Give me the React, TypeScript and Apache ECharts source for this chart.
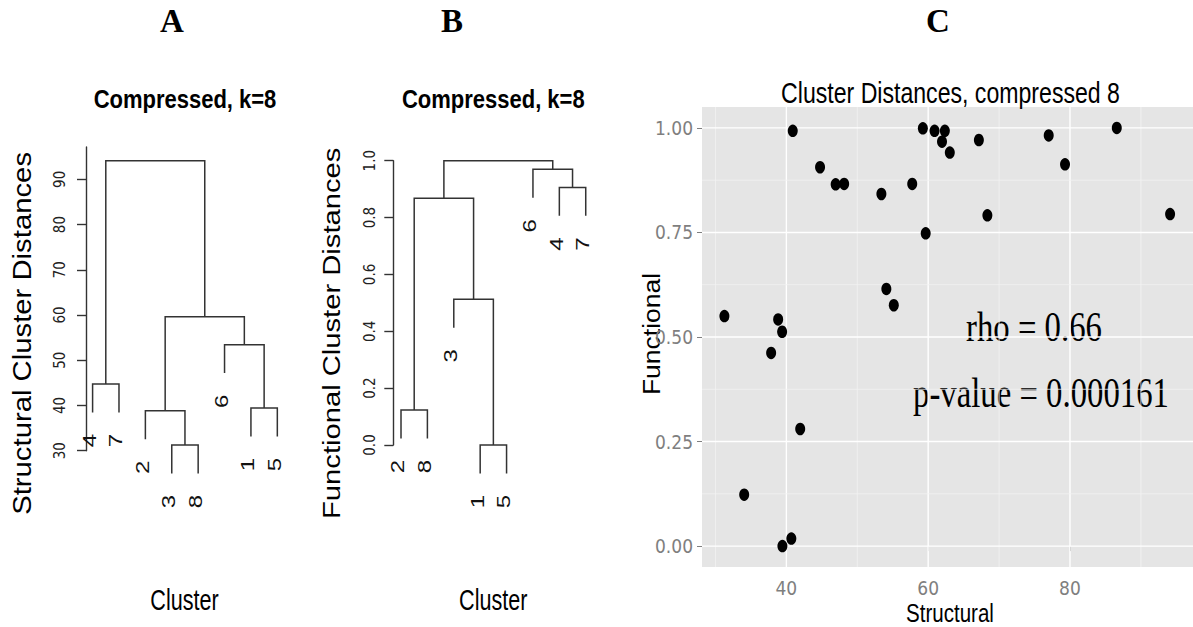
import { useEffect, useRef } from "react";
import * as echarts from "echarts";

// ---------- Panel A: structural dendrogram ----------
const leafOrderA = ["4", "7", "2", "3", "8", "6", "1", "5"];
// R-style merge rows: negative = leaf (cluster id), positive = earlier row (1-based), then height
const mergeA: [number, number, number][] = [
  [-3, -8, 31.26],
  [-2, 1, 38.84],
  [-1, -5, 39.44],
  [-4, -7, 44.75],
  [-6, 3, 53.44],
  [2, 5, 59.63],
  [4, 6, 94.12],
];
const ticksA = [30, 40, 50, 60, 70, 80, 90];

// ---------- Panel B: functional dendrogram ----------
const leafOrderB = ["2", "8", "3", "1", "5", "6", "4", "7"];
const mergeB: [number, number, number][] = [
  [-1, -5, 0.0],
  [-2, -8, 0.123],
  [-3, 1, 0.5125],
  [2, 3, 0.868],
  [-4, -7, 0.906],
  [-6, 5, 0.97],
  [4, 6, 1.0],
];
const ticksB = [0, 0.2, 0.4, 0.6, 0.8, 1.0];
const HANG = 0.1;

// ---------- Panel C: scatter ----------
const structural = [
  31.26, 40.9, 44.75, 46.95, 48.15, 53.4, 57.75, 59.25, 59.65, 60.9, 62.35, 61.95, 63.05, 67.15,
  68.35, 77.0, 79.3, 86.6, 94.12, 54.1, 55.15, 38.84, 39.4, 37.85, 34.05, 41.95, 39.44, 40.7,
];
const functional = [
  0.55, 0.993, 0.906, 0.865, 0.866, 0.842, 0.866, 0.999, 0.748, 0.993, 0.993, 0.967, 0.941, 0.971,
  0.791, 0.982, 0.913, 1.0, 0.794, 0.615, 0.576, 0.542, 0.5125, 0.462, 0.123, 0.28, 0.0, 0.018,
];
const ticksCx = [40, 60, 80];
const minorCx = [30, 50, 70, 90];
const ticksCy = [0, 0.25, 0.5, 0.75, 1.0];
const minorCy = [0.125, 0.375, 0.625, 0.875];
const xRangeC = [28.1, 97.35];
const yRangeC = [-0.05, 1.05];

const SANS = "'Liberation Sans', Arial, Helvetica, sans-serif";
const NARROW = "'Liberation Sans Narrow', 'Arial Narrow', 'DejaVu Sans Condensed', 'Liberation Sans', sans-serif";
const SERIF = "'Liberation Serif', 'Times New Roman', serif";
const LINE = "#333333";

function buildDendro(order: string[], merge: [number, number, number][]) {
  const hs = merge.map((m) => m[2]);
  const hang = HANG * (Math.max(...hs) - Math.min(...hs));
  const nodeX: number[] = [];
  const links: number[][] = [];
  const leaves: number[][] = [];
  const labels: string[] = [];
  merge.forEach((m, i) => {
    const child = (c: number) => {
      if (c < 0) {
        const pos = order.indexOf(String(-c)) + 1;
        leaves.push([pos, m[2] - hang]);
        labels.push(String(-c));
        return [pos, m[2] - hang];
      }
      return [nodeX[c - 1], merge[c - 1][2]];
    };
    const l = child(m[0]);
    const r = child(m[1]);
    nodeX[i] = (l[0] + r[0]) / 2;
    links.push([l[0], l[1], r[0], r[1], m[2]]);
  });
  return { links, leaves, labels };
}

export default function App() {
  const ref = useRef<HTMLDivElement>(null);
  useEffect(() => {
    const chart = echarts.init(ref.current!, null, { renderer: "svg" });
    const dA = buildDendro(leafOrderA, mergeA);
    const dB = buildDendro(leafOrderB, mergeB);

    const linkRender = (params: any, api: any) => {
      const xl = api.value(0), yl = api.value(1), xr = api.value(2), yr = api.value(3), h = api.value(4);
      const pts = [api.coord([xl, yl]), api.coord([xl, h]), api.coord([xr, h]), api.coord([xr, yr])];
      return { type: "polyline", shape: { points: pts }, style: { stroke: LINE, lineWidth: 1.5, fill: "none" } };
    };
    const leafRender = (labels: string[]) => (params: any, api: any) => {
      const p = api.coord([api.value(0), api.value(1)]);
      return {
        type: "text",
        x: p[0] - 2.5,
        y: p[1] + 21.5,
        rotation: Math.PI / 2,
        scaleY: 0.76,
        style: { text: labels[params.dataIndex], fontSize: 24, fontFamily: SANS, fill: "#111", align: "right", verticalAlign: "middle" },
      };
    };
    const gridRender = (vertical: boolean) => (params: any, api: any) => {
      const cs = params.coordSys;
      const major = api.value(2) === 1;
      let shape;
      if (vertical) {
        const x = api.coord([api.value(0), 0.5])[0];
        shape = { x1: x, y1: cs.y, x2: x, y2: cs.y + cs.height };
      } else {
        const y = api.coord([50, api.value(1)])[1];
        shape = { x1: cs.x, y1: y, x2: cs.x + cs.width, y2: y };
      }
      return { type: "line", shape, style: { stroke: major ? "#ffffff" : "#F2F2F2", lineWidth: major ? 1.4 : 0.8 } };
    };

    const dendroY = (min: number, max: number, ticks: number[], margin: number, fmt: (v: number) => string) => ({
      type: "value",
      min,
      max,
      axisLine: { show: true, lineStyle: { color: LINE, width: 1.4 } },
      axisTick: { show: true, length: 9, customValues: ticks, lineStyle: { color: LINE, width: 1.4 } },
      axisLabel: { show: true, customValues: ticks, rotate: 90, margin, fontSize: 15, fontFamily: NARROW, color: "#222", formatter: fmt },
      splitLine: { show: false },
    });

    const T = (text: string, x: number, y: number, font: any, extra: any = {}) => ({
      type: "text",
      x,
      y,
      ...extra,
      style: { text, align: "center", verticalAlign: "middle", fill: "#000", ...font },
    });

    chart.setOption({
      animation: false,
      grid: [
        { left: 86, top: 147, width: 198.9, height: 303.7 },
        { left: 393.3, top: 160.7, width: 200.3, height: 284.3 },
        { left: 702, top: 107, width: 498, height: 460, show: true, backgroundColor: "#E5E5E5", borderWidth: 0 },
      ],
      xAxis: [
        { gridIndex: 0, type: "value", min: 0.75, max: 8.287, show: false },
        { gridIndex: 1, type: "value", min: 0.708, max: 8.298, show: false },
        {
          gridIndex: 2,
          type: "value",
          min: xRangeC[0],
          max: xRangeC[1],
          axisLine: { show: false },
          axisTick: { show: true, length: 5, customValues: ticksCx, lineStyle: { color: "#7F7F7F", width: 1 } },
          axisLabel: { show: true, customValues: ticksCx, margin: 11, fontSize: 19, fontFamily: NARROW, color: "#7F7F7F" },
          splitLine: { show: false },
        },
      ],
      yAxis: [
        { gridIndex: 0, ...dendroY(30, 97.15, ticksA, 19, (v: number) => String(v)) },
        { gridIndex: 1, ...dendroY(0, 1, ticksB, 16, (v: number) => v.toFixed(1)) },
        {
          gridIndex: 2,
          type: "value",
          min: yRangeC[0],
          max: yRangeC[1],
          axisLine: { show: false },
          axisTick: { show: true, length: 5, customValues: ticksCy, lineStyle: { color: "#7F7F7F", width: 1 } },
          axisLabel: { show: true, customValues: ticksCy, margin: 9, fontSize: 19, fontFamily: NARROW, color: "#7F7F7F", formatter: (v: number) => v.toFixed(2) },
          splitLine: { show: false },
        },
      ],
      series: [
        { type: "custom", xAxisIndex: 0, yAxisIndex: 0, renderItem: linkRender, data: dA.links, z: 2 },
        { type: "custom", xAxisIndex: 0, yAxisIndex: 0, renderItem: leafRender(dA.labels), data: dA.leaves, z: 2 },
        { type: "custom", xAxisIndex: 1, yAxisIndex: 1, renderItem: linkRender, data: dB.links, z: 2 },
        { type: "custom", xAxisIndex: 1, yAxisIndex: 1, renderItem: leafRender(dB.labels), data: dB.leaves, z: 2 },
        {
          type: "custom", xAxisIndex: 2, yAxisIndex: 2, renderItem: gridRender(true), z: 1,
          data: [...minorCx.map((v) => [v, 0.5, 0]), ...ticksCx.map((v) => [v, 0.5, 1])],
        },
        {
          type: "custom", xAxisIndex: 2, yAxisIndex: 2, renderItem: gridRender(false), z: 1,
          data: [...minorCy.map((v) => [50, v, 0]), ...ticksCy.map((v) => [50, v, 1])],
        },
        {
          type: "scatter", xAxisIndex: 2, yAxisIndex: 2, z: 3,
          symbol: "circle", symbolSize: [10, 12.5],
          itemStyle: { color: "#000", opacity: 1 },
          data: structural.map((x, i) => [x, functional[i]]),
        },
      ],
      graphic: [
        T("A", 172, 21, { fontSize: 33, fontFamily: SERIF, fontWeight: "bold" }),
        T("B", 452, 21, { fontSize: 33, fontFamily: SERIF, fontWeight: "bold" }),
        T("C", 938, 21, { fontSize: 33, fontFamily: SERIF, fontWeight: "bold" }),
        T("Compressed, k=8", 185, 99.5, { fontSize: 25, fontFamily: SANS, fontWeight: "bold" }, { scaleX: 0.88 }),
        T("Compressed, k=8", 493.3, 99.5, { fontSize: 25, fontFamily: SANS, fontWeight: "bold" }, { scaleX: 0.88 }),
        T("Structural Cluster Distances", 22.5, 333.4, { fontSize: 29.3, fontFamily: SANS }, { rotation: Math.PI / 2, scaleY: 0.88 }),
        T("Functional Cluster Distances", 331.3, 333.3, { fontSize: 29.2, fontFamily: SANS }, { rotation: Math.PI / 2, scaleY: 0.85 }),
        T("Cluster", 184.5, 600, { fontSize: 30, fontFamily: SANS }, { scaleX: 0.72 }),
        T("Cluster", 493.3, 600, { fontSize: 30, fontFamily: SANS }, { scaleX: 0.72 }),
        T("Cluster Distances, compressed 8", 950.5, 92.5, { fontSize: 30, fontFamily: SANS }, { scaleX: 0.77 }),
        T("Functional", 651.7, 334, { fontSize: 26.5, fontFamily: SANS }, { rotation: Math.PI / 2, scaleY: 0.9 }),
        T("Structural", 950, 613, { fontSize: 26, fontFamily: SANS }, { scaleX: 0.79 }),
        T("rho = 0.66", 1034, 326.5, { fontSize: 42, fontFamily: SERIF }, { scaleX: 0.78 }),
        T("p-value = 0.000161", 1041, 392.5, { fontSize: 42, fontFamily: SERIF }, { scaleX: 0.78 }),
      ],
    });
    return () => chart.dispose();
  }, []);
  return (
    <div
      ref={ref}
      style={{ position: "absolute", left: 0, top: 0, width: 1193, height: 627, background: "#fff" }}
    />
  );
}
